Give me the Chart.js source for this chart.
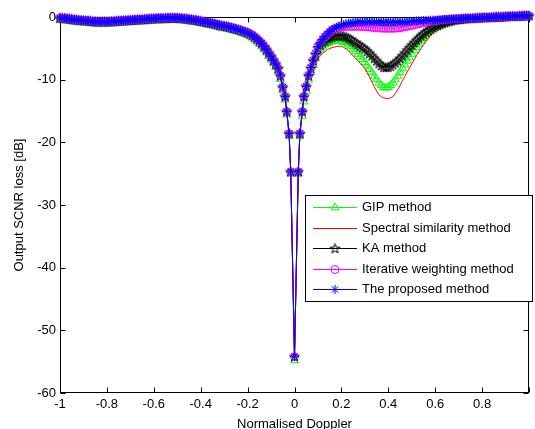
<!DOCTYPE html>
<html>
<head>
<meta charset="utf-8">
<script src="https://cdn.jsdelivr.net/npm/chart.js@4.4.1/dist/chart.umd.min.js"></script>
<style>
  html, body { margin: 0; padding: 0; background: #fff; }
  canvas { display: block; }
</style>
</head>
<body>
<canvas id="lossChart" width="535" height="429"></canvas>
<script>
// Normalised Doppler bins (extra bins close to the clutter notch)
const dopplerGrid = [
  -1, -0.99, -0.98, -0.97, -0.96, -0.95, -0.94, -0.93, -0.92, -0.91,
  -0.9, -0.89, -0.88, -0.87, -0.86, -0.85, -0.84, -0.83, -0.82, -0.81,
  -0.8, -0.79, -0.78, -0.77, -0.76, -0.75, -0.74, -0.73, -0.72, -0.71,
  -0.7, -0.69, -0.68, -0.67, -0.66, -0.65, -0.64, -0.63, -0.62, -0.61,
  -0.6, -0.59, -0.58, -0.57, -0.56, -0.55, -0.54, -0.53, -0.52, -0.51,
  -0.5, -0.49, -0.48, -0.47, -0.46, -0.45, -0.44, -0.43, -0.42, -0.41,
  -0.4, -0.39, -0.38, -0.37, -0.36, -0.35, -0.34, -0.33, -0.32, -0.31,
  -0.3, -0.29, -0.28, -0.27, -0.26, -0.25, -0.24, -0.23, -0.22, -0.21,
  -0.2, -0.19, -0.18, -0.17, -0.16, -0.15, -0.14, -0.13, -0.12, -0.11,
  -0.1, -0.09, -0.08, -0.07,
  -0.06, -0.05, -0.04, -0.033, -0.023, -0.016, 0, 0.016, 0.023, 0.033, 0.04, 0.05, 0.06,
  0.07, 0.08, 0.09, 0.1, 0.11, 0.12, 0.13, 0.14, 0.15, 0.16,
  0.17, 0.18, 0.19, 0.2, 0.21, 0.22, 0.23, 0.24, 0.25, 0.26,
  0.27, 0.28, 0.29, 0.3, 0.31, 0.32, 0.33, 0.34, 0.35, 0.36,
  0.37, 0.38, 0.39, 0.4, 0.41, 0.42, 0.43, 0.44, 0.45, 0.46,
  0.47, 0.48, 0.49, 0.5, 0.51, 0.52, 0.53, 0.54, 0.55, 0.56,
  0.57, 0.58, 0.59, 0.6, 0.61, 0.62, 0.63, 0.64, 0.65, 0.66,
  0.67, 0.68, 0.69, 0.7, 0.71, 0.72, 0.73, 0.74, 0.75, 0.76,
  0.77, 0.78, 0.79, 0.8, 0.81, 0.82, 0.83, 0.84, 0.85, 0.86,
  0.87, 0.88, 0.89, 0.9, 0.91, 0.92, 0.93, 0.94, 0.95, 0.96,
  0.97, 0.98, 0.99, 1
];

// Output SCNR loss [dB] per method
const gipLoss = [
  -0.5, -0.53, -0.55, -0.6, -0.65, -0.7, -0.75, -0.8, -0.85, -0.87,
  -0.9, -0.93, -0.95, -1.0, -1.05, -1.07, -1.1, -1.1, -1.1, -1.1,
  -1.1, -1.07, -1.05, -1.03, -1.0, -0.97, -0.95, -0.93, -0.9, -0.87,
  -0.85, -0.83, -0.8, -0.77, -0.75, -0.73, -0.7, -0.67, -0.65, -0.63,
  -0.6, -0.57, -0.55, -0.55, -0.55, -0.53, -0.5, -0.5, -0.5, -0.5,
  -0.5, -0.53, -0.55, -0.6, -0.65, -0.7, -0.75, -0.8, -0.85, -0.93,
  -1.0, -1.07, -1.15, -1.23, -1.3, -1.37, -1.45, -1.55, -1.65, -1.73,
  -1.8, -1.87, -1.95, -2.05, -2.15, -2.25, -2.35, -2.47, -2.6, -2.73,
  -2.9, -3.1, -3.3, -3.6, -3.9, -4.3, -4.7, -5.2, -5.7, -6.25,
  -6.8, -7.4, -8.0, -8.7,
  -9.9, -11.7, -13.2, -15.6, -19.0, -25.0, -54.8, -25.0, -19.0, -15.8, -13.5, -11.8, -10.0,
  -8.8, -7.7, -6.6, -5.6, -5.1, -4.7, -4.4, -4.2, -4.05, -3.9,
  -3.85, -3.8, -3.8, -3.9, -4.0, -4.1, -4.4, -4.7, -5.1, -5.5,
  -5.9, -6.3, -6.75, -7.2, -7.75, -8.3, -8.85, -9.4, -9.95, -10.5,
  -10.9, -11.2, -11.3, -11.2, -10.9, -10.5, -10.0, -9.4, -8.8, -8.2,
  -7.6, -7.0, -6.45, -5.9, -5.35, -4.8, -4.3, -3.8, -3.4, -3.0,
  -2.65, -2.3, -2.0, -1.7, -1.5, -1.3, -1.15, -1.0, -0.9, -0.8,
  -0.72, -0.65, -0.62, -0.6, -0.57, -0.55, -0.52, -0.5, -0.47, -0.45,
  -0.42, -0.4, -0.37, -0.35, -0.35, -0.35, -0.33, -0.3, -0.27, -0.25,
  -0.25, -0.25, -0.22, -0.2, -0.17, -0.15, -0.15, -0.15, -0.12, -0.1,
  -0.07, -0.05, -0.05, -0.05
];
const spectralLoss = [
  -0.15, -0.18, -0.2, -0.25, -0.3, -0.35, -0.4, -0.45, -0.5, -0.52,
  -0.55, -0.58, -0.6, -0.65, -0.7, -0.72, -0.75, -0.75, -0.75, -0.75,
  -0.75, -0.72, -0.7, -0.68, -0.65, -0.62, -0.6, -0.58, -0.55, -0.52,
  -0.5, -0.48, -0.45, -0.42, -0.4, -0.38, -0.35, -0.32, -0.3, -0.28,
  -0.25, -0.22, -0.2, -0.2, -0.2, -0.18, -0.15, -0.15, -0.15, -0.15,
  -0.15, -0.18, -0.2, -0.25, -0.3, -0.35, -0.4, -0.45, -0.5, -0.58,
  -0.65, -0.72, -0.8, -0.88, -0.95, -1.02, -1.1, -1.2, -1.3, -1.38,
  -1.45, -1.52, -1.6, -1.7, -1.8, -1.9, -2.0, -2.12, -2.25, -2.38,
  -2.5, -2.7, -2.9, -3.2, -3.5, -3.85, -4.2, -4.7, -5.2, -5.75,
  -6.3, -6.9, -7.5, -8.2,
  -9.4, -11.2, -12.7, -15.1, -18.6, -24.7, -54.2, -24.7, -18.6, -15.1, -12.8, -11.3, -9.6,
  -8.5, -7.6, -7.1, -6.6, -6.2, -5.8, -5.5, -5.2, -5.05, -4.9,
  -4.8, -4.7, -4.65, -4.7, -4.85, -5.1, -5.4, -5.8, -6.2, -6.6,
  -7.0, -7.4, -7.8, -8.2, -8.9, -9.6, -10.35, -11.1, -11.8, -12.4,
  -12.7, -12.9, -13.0, -13.0, -12.9, -12.7, -12.2, -11.6, -10.9, -10.2,
  -9.5, -8.8, -8.15, -7.5, -6.85, -6.2, -5.6, -5.0, -4.45, -3.9,
  -3.4, -2.9, -2.5, -2.1, -1.75, -1.4, -1.15, -0.9, -0.8, -0.7,
  -0.6, -0.5, -0.45, -0.4, -0.35, -0.3, -0.28, -0.25, -0.22, -0.2,
  -0.18, -0.15, -0.12, -0.1, -0.1, -0.1, -0.08, -0.05, -0.02, 0,
  0, 0, 0.02, 0.05, 0.08, 0.1, 0.1, 0.1, 0.12, 0.15,
  0.18, 0.2, 0.2, 0.2
];
const kaLoss = [
  -0.15, -0.18, -0.2, -0.25, -0.3, -0.35, -0.4, -0.45, -0.5, -0.52,
  -0.55, -0.58, -0.6, -0.65, -0.7, -0.72, -0.75, -0.75, -0.75, -0.75,
  -0.75, -0.72, -0.7, -0.68, -0.65, -0.62, -0.6, -0.58, -0.55, -0.52,
  -0.5, -0.48, -0.45, -0.42, -0.4, -0.38, -0.35, -0.32, -0.3, -0.28,
  -0.25, -0.22, -0.2, -0.2, -0.2, -0.18, -0.15, -0.15, -0.15, -0.15,
  -0.15, -0.18, -0.2, -0.25, -0.3, -0.35, -0.4, -0.45, -0.5, -0.58,
  -0.65, -0.72, -0.8, -0.88, -0.95, -1.02, -1.1, -1.2, -1.3, -1.38,
  -1.45, -1.52, -1.6, -1.7, -1.8, -1.9, -2.0, -2.12, -2.25, -2.38,
  -2.5, -2.7, -2.9, -3.2, -3.5, -3.85, -4.2, -4.7, -5.2, -5.75,
  -6.3, -6.9, -7.5, -8.2,
  -9.4, -11.2, -12.7, -15.1, -18.6, -24.7, -54.2, -24.7, -18.6, -15.1, -12.7, -11.1, -9.4,
  -8.2, -7.0, -6.0, -5.0, -4.5, -4.1, -3.8, -3.5, -3.35, -3.2,
  -3.1, -3.0, -3.0, -3.0, -3.1, -3.2, -3.4, -3.6, -3.85, -4.1,
  -4.35, -4.6, -4.85, -5.1, -5.45, -5.8, -6.2, -6.6, -7.0, -7.4,
  -7.75, -8.0, -8.05, -8.0, -7.85, -7.6, -7.3, -7.0, -6.6, -6.2,
  -5.75, -5.3, -4.9, -4.5, -4.1, -3.7, -3.35, -3.0, -2.7, -2.4,
  -2.15, -1.9, -1.7, -1.5, -1.35, -1.2, -1.05, -0.9, -0.8, -0.7,
  -0.6, -0.5, -0.45, -0.4, -0.35, -0.3, -0.28, -0.25, -0.22, -0.2,
  -0.18, -0.15, -0.12, -0.1, -0.1, -0.1, -0.08, -0.05, -0.02, 0,
  0, 0, 0.02, 0.05, 0.08, 0.1, 0.1, 0.1, 0.12, 0.15,
  0.18, 0.2, 0.2, 0.2
];
const iterativeLoss = [
  -0.15, -0.18, -0.2, -0.25, -0.3, -0.35, -0.4, -0.45, -0.5, -0.52,
  -0.55, -0.58, -0.6, -0.65, -0.7, -0.72, -0.75, -0.75, -0.75, -0.75,
  -0.75, -0.72, -0.7, -0.68, -0.65, -0.62, -0.6, -0.58, -0.55, -0.52,
  -0.5, -0.48, -0.45, -0.42, -0.4, -0.38, -0.35, -0.32, -0.3, -0.28,
  -0.25, -0.22, -0.2, -0.2, -0.2, -0.18, -0.15, -0.15, -0.15, -0.15,
  -0.15, -0.18, -0.2, -0.25, -0.3, -0.35, -0.4, -0.45, -0.5, -0.58,
  -0.65, -0.72, -0.8, -0.88, -0.95, -1.02, -1.1, -1.2, -1.3, -1.38,
  -1.45, -1.52, -1.6, -1.7, -1.8, -1.9, -2.0, -2.12, -2.25, -2.38,
  -2.5, -2.7, -2.9, -3.2, -3.5, -3.85, -4.2, -4.7, -5.2, -5.75,
  -6.3, -6.9, -7.5, -8.2,
  -9.4, -11.2, -12.7, -15.1, -18.6, -24.7, -54.2, -24.7, -18.6, -15.1, -12.7, -11.1, -9.3,
  -8.1, -6.9, -5.8, -4.7, -4.1, -3.6, -3.15, -2.8, -2.45, -2.1,
  -1.95, -1.8, -1.7, -1.6, -1.55, -1.5, -1.5, -1.5, -1.5, -1.5,
  -1.5, -1.5, -1.52, -1.55, -1.58, -1.6, -1.65, -1.7, -1.72, -1.75,
  -1.78, -1.8, -1.8, -1.8, -1.8, -1.8, -1.78, -1.75, -1.7, -1.65,
  -1.58, -1.5, -1.42, -1.35, -1.25, -1.15, -1.08, -1.0, -0.92, -0.85,
  -0.78, -0.7, -0.65, -0.6, -0.55, -0.5, -0.45, -0.4, -0.38, -0.35,
  -0.32, -0.3, -0.3, -0.3, -0.28, -0.25, -0.22, -0.2, -0.2, -0.2,
  -0.18, -0.15, -0.12, -0.1, -0.1, -0.1, -0.08, -0.05, -0.02, 0,
  0, 0, 0.02, 0.05, 0.08, 0.1, 0.1, 0.1, 0.12, 0.15,
  0.18, 0.2, 0.2, 0.2
];
const proposedLoss = [
  -0.15, -0.18, -0.2, -0.25, -0.3, -0.35, -0.4, -0.45, -0.5, -0.52,
  -0.55, -0.58, -0.6, -0.65, -0.7, -0.72, -0.75, -0.75, -0.75, -0.75,
  -0.75, -0.72, -0.7, -0.68, -0.65, -0.62, -0.6, -0.58, -0.55, -0.52,
  -0.5, -0.48, -0.45, -0.42, -0.4, -0.38, -0.35, -0.32, -0.3, -0.28,
  -0.25, -0.22, -0.2, -0.2, -0.2, -0.18, -0.15, -0.15, -0.15, -0.15,
  -0.15, -0.18, -0.2, -0.25, -0.3, -0.35, -0.4, -0.45, -0.5, -0.58,
  -0.65, -0.72, -0.8, -0.88, -0.95, -1.02, -1.1, -1.2, -1.3, -1.38,
  -1.45, -1.52, -1.6, -1.7, -1.8, -1.9, -2.0, -2.12, -2.25, -2.38,
  -2.5, -2.7, -2.9, -3.2, -3.5, -3.85, -4.2, -4.7, -5.2, -5.75,
  -6.3, -6.9, -7.5, -8.2,
  -9.4, -11.2, -12.7, -15.1, -18.6, -24.7, -54.2, -24.7, -18.6, -15.1, -12.7, -11.1, -9.3,
  -8.1, -6.9, -5.8, -4.7, -4.1, -3.6, -3.1, -2.7, -2.35, -2.0,
  -1.8, -1.6, -1.45, -1.3, -1.2, -1.1, -1.02, -0.95, -0.9, -0.85,
  -0.82, -0.8, -0.78, -0.75, -0.75, -0.75, -0.78, -0.8, -0.8, -0.8,
  -0.82, -0.85, -0.85, -0.85, -0.85, -0.85, -0.82, -0.8, -0.8, -0.8,
  -0.78, -0.75, -0.72, -0.7, -0.68, -0.65, -0.62, -0.6, -0.58, -0.55,
  -0.52, -0.5, -0.5, -0.5, -0.48, -0.45, -0.42, -0.4, -0.38, -0.35,
  -0.32, -0.3, -0.3, -0.3, -0.28, -0.25, -0.22, -0.2, -0.2, -0.2,
  -0.18, -0.15, -0.12, -0.1, -0.1, -0.1, -0.08, -0.05, -0.02, 0,
  0, 0, 0.02, 0.05, 0.08, 0.1, 0.1, 0.1, 0.12, 0.15,
  0.18, 0.2, 0.2, 0.2
];

const xTickValues = [-1, -0.8, -0.6, -0.4, -0.2, 0, 0.2, 0.4, 0.6, 0.8, 1];
const xTickLabels = ['-1', '-0.8', '-0.6', '-0.4', '-0.2', '0', '0.2', '0.4', '0.6', '0.8', ''];
const yTickValues = [-60, -50, -40, -30, -20, -10, 0];
const yTickLabels = ['-60', '-50', '-40', '-30', '-20', '-10', '0'];

const FONT = "'Liberation Sans', Arial, Helvetica, sans-serif";
Chart.defaults.font.family = FONT;
Chart.defaults.font.size = 13;
Chart.defaults.color = '#000';

// MATLAB-style pentagram marker
function makePentagram(color) {
    const c = document.createElement('canvas');
    c.width = 13; c.height = 13;
    const g = c.getContext('2d');
    const R = 5.2, r = 2.0;
    g.beginPath();
    for (let k = 0; k < 10; k++) {
        const rad = k % 2 === 0 ? R : r;
        const a = -Math.PI / 2 + k * Math.PI / 5;
        const px = 6.5 + rad * Math.cos(a), py = 6.8 + rad * Math.sin(a);
        if (k === 0) g.moveTo(px, py); else g.lineTo(px, py);
    }
    g.closePath();
    g.strokeStyle = color;
    g.lineWidth = 1;
    g.stroke();
    return c;
}
const pentagram = makePentagram('#000');

const toPoints = arr => dopplerGrid.map((x, i) => ({ x: x, y: arr[i] }));

const series = [
    { label: 'GIP method', values: gipLoss, color: '#00ff00', style: 'triangle', radius: 4.6, order: 4 },
    { label: 'Spectral similarity method', values: spectralLoss, color: '#ff0000', style: false, radius: 0, order: 3 },
    { label: 'KA method', values: kaLoss, color: '#000000', style: pentagram, radius: 5, order: 2 },
    { label: 'Iterative weighting method', values: iterativeLoss, color: '#ff00ff', style: 'circle', radius: 4, order: 1 },
    { label: 'The proposed method', values: proposedLoss, color: '#0000ff', style: 'star', radius: 4.5, order: 0 }
];

const framePlugin = {
    id: 'frame',
    beforeDatasetsDraw(chart) {
        const { ctx, chartArea: a, scales } = chart;
        const L = Math.round(a.left) + 0.5, R = Math.round(a.right) - 0.5;
        const T = Math.round(a.top) + 0.5, B = Math.round(a.bottom) - 0.5;
        ctx.save();
        ctx.strokeStyle = '#000';
        ctx.lineWidth = 1;
        ctx.strokeRect(L, T, R - L, B - T);
        ctx.beginPath();
        xTickValues.forEach(v => {
            const px = Math.round(scales.x.getPixelForValue(v)) + 0.5;
            ctx.moveTo(px, B); ctx.lineTo(px, B - 5);
            ctx.moveTo(px, T); ctx.lineTo(px, T + 5);
        });
        yTickValues.forEach(v => {
            const py = Math.round(scales.y.getPixelForValue(v)) + 0.5;
            ctx.moveTo(L, py); ctx.lineTo(L + 5, py);
            ctx.moveTo(R, py); ctx.lineTo(R - 5, py);
        });
        ctx.stroke();
        ctx.restore();
    }
};

const legendPlugin = {
    id: 'boxLegend',
    afterDraw(chart) {
        const ctx = chart.ctx;
        const box = { x: 305.5, y: 195.5, w: 227, h: 106 };
        ctx.save();
        ctx.fillStyle = '#fff';
        ctx.fillRect(box.x, box.y, box.w, box.h);
        ctx.strokeStyle = '#000';
        ctx.lineWidth = 1;
        ctx.strokeRect(box.x, box.y, box.w, box.h);
        ctx.font = '13px ' + FONT;
        ctx.textBaseline = 'middle';
        ctx.textAlign = 'left';
        series.forEach((s, i) => {
            const cy = Math.round(207 + i * 20.5) + 0.5;
            ctx.strokeStyle = s.color;
            ctx.lineWidth = 1;
            ctx.beginPath();
            ctx.moveTo(313, cy);
            ctx.lineTo(357, cy);
            ctx.stroke();
            if (s.style && Chart.helpers && Chart.helpers.drawPoint) {
                ctx.fillStyle = 'rgba(0,0,0,0)';
                Chart.helpers.drawPoint(ctx, { pointStyle: s.style, radius: s.radius, borderWidth: 1, rotation: 0 }, 335, cy);
            }
            ctx.fillStyle = '#000';
            ctx.fillText(s.label, 362, cy);
        });
        ctx.restore();
    }
};

new Chart(document.getElementById('lossChart'), {
    type: 'line',
    data: {
        datasets: series.map(s => ({
            label: s.label,
            data: toPoints(s.values),
            borderColor: s.color,
            backgroundColor: 'rgba(0,0,0,0)',
            borderWidth: 1,
            pointStyle: s.style,
            pointRadius: s.radius,
            pointBorderColor: s.color,
            pointBackgroundColor: 'rgba(0,0,0,0)',
            pointBorderWidth: 1,
            tension: 0,
            order: s.order,
            clip: false
        }))
    },
    options: {
        responsive: false,
        animation: false,
        events: [],
        layout: { padding: { left: 0, right: 2, top: 17, bottom: 0 } },
        plugins: { legend: { display: false }, tooltip: { enabled: false } },
        scales: {
            x: {
                type: 'linear',
                min: -1,
                max: 1,
                grid: { display: false, drawTicks: false },
                border: { display: false },
                afterBuildTicks: s => { s.ticks = xTickValues.map(v => ({ value: v })); },
                afterFit: s => { s.height = 36; },
                ticks: {
                    autoSkip: false,
                    maxRotation: 0,
                    padding: 4,
                    color: '#000',
                    callback: (v, i) => xTickLabels[i]
                },
                title: {
                    display: true,
                    text: 'Normalised Doppler',
                    color: '#000',
                    font: { size: 13, lineHeight: 1 },
                    padding: { top: 0, bottom: -1.5 }
                }
            },
            y: {
                type: 'linear',
                min: -60,
                max: 0,
                grid: { display: false, drawTicks: false },
                border: { display: false },
                afterBuildTicks: s => { s.ticks = yTickValues.map(v => ({ value: v })); },
                afterFit: s => { s.width = 60; },
                ticks: {
                    autoSkip: false,
                    padding: 4,
                    color: '#000',
                    callback: (v, i) => yTickLabels[i]
                },
                title: {
                    display: true,
                    text: 'Output SCNR loss [dB]',
                    color: '#000',
                    font: { size: 13, lineHeight: 1 },
                    padding: { top: 13, bottom: 0 }
                }
            }
        }
    },
    plugins: [framePlugin, legendPlugin]
});
</script>
</body>
</html>
